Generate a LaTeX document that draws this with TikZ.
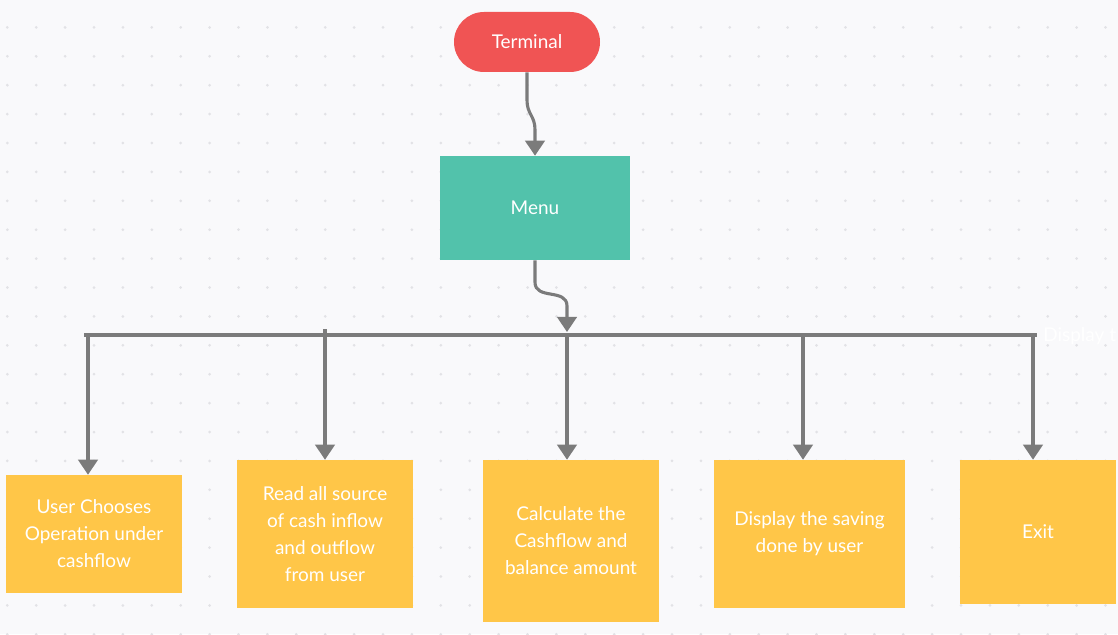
\documentclass[tikz,border=0pt]{standalone}
\usepackage{fontspec}
\setmainfont{Lato}
\usepackage{tikz}
\usetikzlibrary{positioning}
\usetikzlibrary{arrows,arrows.meta}
\usetikzlibrary{calc}
\definecolor{termred}{HTML}{F05454}
\definecolor{menuteal}{HTML}{52C2AB}
\definecolor{stepyellow}{HTML}{FFC648}
\definecolor{linegray}{HTML}{7B7B7B}
\definecolor{paper}{HTML}{F9F9FB}
\definecolor{dotgray}{HTML}{E2E2E6}
\tikzstyle{coord} = [coordinate]
\tikzstyle{card} = [draw=none, text=white, align=center, font=\fontsize{13.5}{19.2}\selectfont]
\tikzstyle{opbox} = [card, fill=stepyellow, minimum width=4.4cm]
\tikzstyle{flow} = [draw=linegray, line width=2.2pt, -{Triangle[width=0.49cm,length=0.38cm]}]

\begin{document}
\begin{tikzpicture}[auto]

    % paper with dot grid
    \fill[paper] (0,0) rectangle (27.95,-15.85);
    \useasboundingbox (0,0) rectangle (27.95,-15.85);
    \foreach \i in {0,...,38}
        \foreach \j in {0,...,22}
            \fill[dotgray] (0.1825+0.7225*\i, 0.0375-0.7225*\j) circle (0.0375cm);

    \node[card, fill=termred, rounded corners=0.75cm, minimum width=3.65cm, minimum height=1.5cm] (term) at (13.175,-1.05) {Terminal};
    \node[card, fill=menuteal, minimum width=4.75cm, minimum height=2.6cm] (menu) at (13.375,-5.2) {Menu};

    \node[opbox, minimum height=2.95cm] (choose) at (2.35,-13.35) {User Chooses\\Operation under\\cashflow};
    \node[opbox, minimum height=3.7cm] (read) at (8.125,-13.35) {Read all source\\of cash inflow\\and outflow\\from user};
    \node[opbox, minimum height=4.05cm] (calc) at (14.275,-13.525) {Calculate the\\Cashflow and\\balance amount};
    \node[opbox, minimum width=4.775cm, minimum height=3.7cm] (disp) at (20.2375,-13.35) {Display the saving\\done by user};
    \node[opbox, minimum width=3.9cm, minimum height=3.6cm] (exit) at (25.95,-13.3) {Exit};

    \node[card, anchor=west, inner sep=0pt] (cut) at (26.075,-8.4) {Display t};

    % bus
    \coordinate (busl) at (2.1,-8.375);
    \coordinate (busr) at (25.925,-8.375);
    \coordinate (b1) at (2.2,-8.375);
    \coordinate (b2) at (8.125,-8.225);
    \coordinate (b3) at (14.175,-8.375);
    \coordinate (b4) at (20.075,-8.375);
    \coordinate (b5) at (25.825,-8.375);
    \coordinate (bin) at (14.175,-8.3);
    \draw[draw=linegray, line width=2.2pt] (busl) -- (busr);

    % top
    \draw[flow] (term.south) -- ++(0,-0.7) .. controls ++(0,-0.35) and ++(0,0.35) .. ($(menu.north)+(0,0.65)$) -- (menu.north);
    \draw[flow] (menu.south) -- ++(0,-0.55) .. controls ++(0,-0.45) and ++(0,0.45) .. ($(bin)+(0,0.65)$) -- (bin);

    % drops
    \draw[flow] (b1) -- (b1 |- choose.north);
    \draw[flow] (b2) -- (b2 |- read.north);
    \draw[flow] (b3) -- (b3 |- calc.north);
    \draw[flow] (b4) -- (b4 |- disp.north);
    \draw[flow] (b5) -- (b5 |- exit.north);

\end{tikzpicture}
\end{document}
